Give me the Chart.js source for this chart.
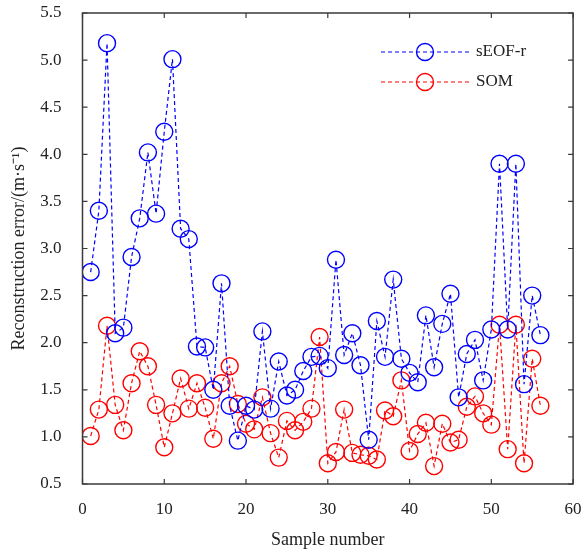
<!DOCTYPE html>
<html>
<head>
<meta charset="utf-8">
<script src="https://cdn.jsdelivr.net/npm/chart.js@4/dist/chart.umd.min.js"></script>
<style>
  html, body { margin: 0; padding: 0; background: #fff; }
  #wrap { width: 583px; height: 551px; }
</style>
</head>
<body>
<div id="wrap"><canvas id="c" width="583" height="551"></canvas></div>
<script>
const samples = Array.from({length: 56}, (_, i) => i + 1);
const seofR = [2.75, 3.40, 5.18, 2.10, 2.16, 2.91, 3.32, 4.02, 3.37, 4.24,
               5.01, 3.21, 3.10, 1.96, 1.95, 1.50, 2.63, 1.33, 0.96, 1.33,
               1.29, 2.12, 1.30, 1.80, 1.44, 1.50, 1.70, 1.85, 1.86, 1.73,
               2.88, 1.87, 2.10, 1.76, 0.97, 2.23, 1.85, 2.67, 1.83, 1.68,
               1.58, 2.29, 1.74, 2.20, 2.52, 1.42, 1.88, 2.03, 1.60, 2.14,
               3.90, 2.14, 3.90, 1.56, 2.50, 2.08];
const som = [1.01, 1.29, 2.18, 1.34, 1.07, 1.57, 1.91, 1.75, 1.34, 0.89,
             1.25, 1.62, 1.30, 1.57, 1.31, 0.98, 1.57, 1.75, 1.35, 1.14,
             1.08, 1.42, 1.04, 0.78, 1.17, 1.07, 1.16, 1.30, 2.06, 0.72,
             0.84, 1.29, 0.83, 0.81, 0.80, 0.76, 1.28, 1.22, 1.60, 0.85,
             1.03, 1.15, 0.69, 1.14, 0.94, 0.97, 1.32, 1.43, 1.25, 1.13,
             2.19, 0.87, 2.19, 0.72, 1.83, 1.33];
const seriesNames = ['sEOF-r', 'SOM'];
const seriesColors = ['#0000ff', '#ff0000'];
const xTicks = [0, 10, 20, 30, 40, 50, 60];
const yTicks = [0.5, 1.0, 1.5, 2.0, 2.5, 3.0, 3.5, 4.0, 4.5, 5.0, 5.5];
const xTitle = 'Sample number';
const yTitle = 'Reconstruction error/(m\u00b7s\u207b\u00b9)';

const FONT = '"Liberation Serif", "Times New Roman", serif';

function mk(values, i) {
  return {
    label: seriesNames[i],
    data: samples.map((s, k) => ({x: s, y: values[k]})),
    borderColor: seriesColors[i],
    backgroundColor: 'rgba(0,0,0,0)',
    borderWidth: 1.2,
    borderDash: [4, 3],
    pointRadius: 8.5,
    pointHoverRadius: 8.5,
    pointBorderWidth: 1.4,
    pointBorderColor: seriesColors[i],
    pointBackgroundColor: 'rgba(0,0,0,0)',
    tension: 0,
    showLine: true
  };
}

const framePlugin = {
  id: 'frame',
  afterDraw(chart) {
    const ctx = chart.ctx;
    const a = chart.chartArea;
    const xs = chart.scales.x, ys = chart.scales.y;
    ctx.save();
    ctx.strokeStyle = '#3a3a3a';
    ctx.lineWidth = 1.5;
    ctx.strokeRect(a.left, a.top, a.right - a.left, a.bottom - a.top);
    ctx.lineWidth = 1.2;
    const L = 5;
    ctx.beginPath();
    xTicks.forEach(v => {
      const px = xs.getPixelForValue(v);
      ctx.moveTo(px, a.bottom); ctx.lineTo(px, a.bottom - L);
      ctx.moveTo(px, a.top); ctx.lineTo(px, a.top + L);
    });
    yTicks.forEach(v => {
      const py = ys.getPixelForValue(v);
      ctx.moveTo(a.left, py); ctx.lineTo(a.left + L, py);
      ctx.moveTo(a.right, py); ctx.lineTo(a.right - L, py);
    });
    ctx.stroke();

    // legend inside plot, top right
    const lx0 = 381, lx1 = 470, cx = 425;
    const rows = [52, 82];
    ctx.font = '17px ' + FONT;
    ctx.textBaseline = 'middle';
    rows.forEach((y, i) => {
      ctx.strokeStyle = seriesColors[i];
      ctx.lineWidth = 1.2;
      ctx.setLineDash([4, 3]);
      ctx.beginPath();
      ctx.moveTo(lx0, y); ctx.lineTo(lx1, y);
      ctx.stroke();
      ctx.setLineDash([]);
      ctx.lineWidth = 1.4;
      ctx.beginPath();
      ctx.arc(cx, y, 8.5, 0, Math.PI * 2);
      ctx.stroke();
      ctx.fillStyle = '#222';
      ctx.textAlign = 'left';
      ctx.fillText(seriesNames[i], 476, y);
    });
    ctx.restore();
  }
};

new Chart(document.getElementById('c'), {
  type: 'scatter',
  data: { datasets: [mk(seofR, 0), mk(som, 1)] },
  options: {
    responsive: false,
    animation: false,
    devicePixelRatio: 1,
    layout: { padding: { left: 8, right: 8, top: 13, bottom: 0 } },
    plugins: { legend: { display: false }, tooltip: { enabled: false } },
    scales: {
      x: {
        type: 'linear', min: 0, max: 60,
        afterBuildTicks(s) { s.ticks = xTicks.map(v => ({value: v})); },
        afterFit(s) { s.height = 67; },
        grid: { display: true, drawOnChartArea: false, drawTicks: true,
                tickLength: 15, tickColor: 'rgba(0,0,0,0)' },
        border: { display: false },
        ticks: { color: '#222', padding: 0, font: { family: FONT, size: 17 },
                 callback: v => String(v), maxRotation: 0 },
        title: { display: true, text: xTitle, color: '#222',
                 font: { family: FONT, size: 18 }, padding: { top: 2, bottom: 0 } }
      },
      y: {
        type: 'linear', min: 0.5, max: 5.5,
        afterBuildTicks(s) { s.ticks = yTicks.map(v => ({value: v})); },
        afterFit(s) { s.width = 74.5; },
        grid: { display: true, drawOnChartArea: false, drawTicks: true,
                tickLength: 19, tickColor: 'rgba(0,0,0,0)' },
        border: { display: false },
        ticks: { color: '#222', padding: 2, font: { family: FONT, size: 17 },
                 callback: v => Number(v).toFixed(1) },
        title: { display: true, text: yTitle, color: '#222',
                 font: { family: FONT, size: 18 }, padding: { top: 0, bottom: 2 } }
      }
    }
  },
  plugins: [framePlugin]
});
</script>
</body>
</html>
